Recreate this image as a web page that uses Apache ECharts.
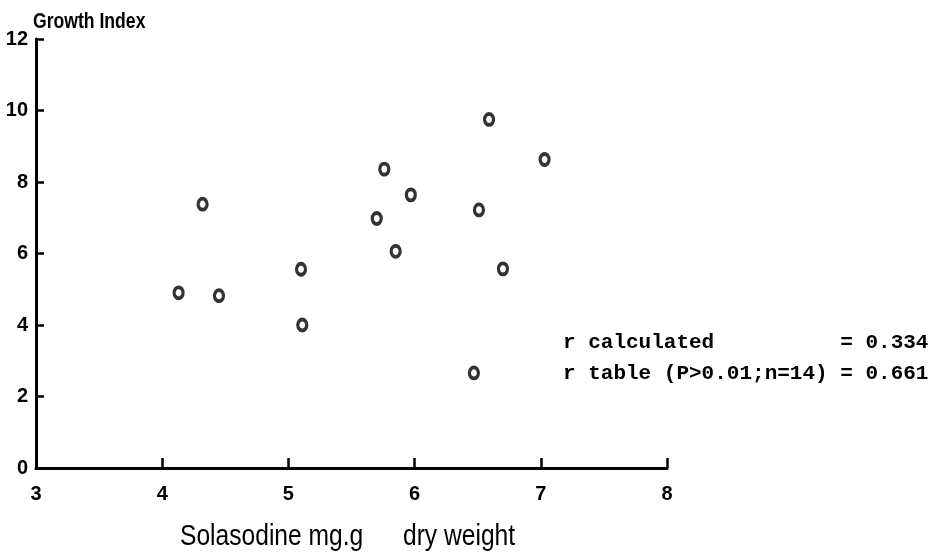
<!DOCTYPE html>
<html>
<head>
<meta charset="utf-8">
<script src="https://cdn.jsdelivr.net/npm/echarts@6/dist/echarts.min.js"></script>
<style>
  html, body { margin: 0; padding: 0; background: #fff; }
  #chart { width: 946px; height: 555px; }
</style>
</head>
<body>
<div id="chart"></div>
<script>
// Solasodine content (mg per g dry weight) against growth index, one point per sample
const solasodine = [4.13, 4.32, 4.45, 5.10, 5.11, 5.70, 5.76, 5.85, 5.97, 6.47, 6.51, 6.59, 6.70, 7.03];
const growthIndex = [4.90, 7.38, 4.82, 5.56, 4.00, 6.98, 8.36, 6.06, 7.64, 2.66, 7.22, 9.75, 5.57, 8.63];

// Axis ranges and tick labels
const xTicks = [3, 4, 5, 6, 7, 8];
const yTicks = [0, 2, 4, 6, 8, 10, 12];

// Correlation statistics printed beside the plot
const statLines = [
  'r calculated          = 0.334',
  'r table (P>0.01;n=14) = 0.661'
];

const points = solasodine.map((x, i) => [x, growthIndex[i]]);

const sans = '"Liberation Sans", Arial, sans-serif';
const mono = '"Liberation Mono", "DejaVu Sans Mono", monospace';

// Condensed-looking caption: regular sans squeezed horizontally
function caption(text, x, y, font, squeeze) {
  return {
    type: 'text', x: x, y: y, scaleX: squeeze, originX: 0, originY: 0,
    style: { text: text, fill: '#000', font: font, textVerticalAlign: 'top', textAlign: 'left' }
  };
}

const chart = echarts.init(document.getElementById('chart'), null, { renderer: 'canvas' });

chart.setOption({
  animation: false,
  backgroundColor: '#fff',
  grid: { left: 36, right: 279, top: 39, bottom: 87, containLabel: false },
  xAxis: {
    type: 'value',
    min: xTicks[0],
    max: xTicks[xTicks.length - 1],
    interval: 1,
    axisLine: { show: true, lineStyle: { color: '#000', width: 3 } },
    axisTick: { show: true, inside: true, length: 10, lineStyle: { color: '#000', width: 2.5 } },
    axisLabel: {
      margin: 16,
      color: '#000',
      fontFamily: sans,
      fontWeight: 'bold',
      fontSize: 20,
      formatter: v => xTicks.includes(v) ? String(v) : ''
    },
    splitLine: { show: false }
  },
  yAxis: {
    type: 'value',
    min: yTicks[0],
    max: yTicks[yTicks.length - 1],
    interval: 2,
    axisLine: { show: true, lineStyle: { color: '#000', width: 3 } },
    axisTick: { show: true, inside: true, length: 8, lineStyle: { color: '#000', width: 2.5 } },
    axisLabel: {
      margin: 8,
      color: '#000',
      fontFamily: sans,
      fontWeight: 'bold',
      fontSize: 20,
      formatter: v => yTicks.includes(v) ? String(v) : ''
    },
    splitLine: { show: false }
  },
  series: [{
    type: 'scatter',
    data: points,
    symbol: 'circle',
    symbolSize: [9, 11],
    itemStyle: { color: '#fff', borderColor: '#000', borderWidth: 3.5 }
  }],
  graphic: [
    caption('Growth Index', 33, 11, 'bold 22px ' + sans, 0.8),
    caption('Solasodine mg.g', 180, 522, '30px ' + sans, 0.82),
    caption('dry weight', 403, 522, '30px ' + sans, 0.82),
    {
      type: 'text', left: 563, top: 332,
      style: { text: statLines[0], fill: '#000', font: 'bold 21px ' + mono }
    },
    {
      type: 'text', left: 563, top: 363,
      style: { text: statLines[1], fill: '#000', font: 'bold 21px ' + mono }
    }
  ]
});
</script>
</body>
</html>
